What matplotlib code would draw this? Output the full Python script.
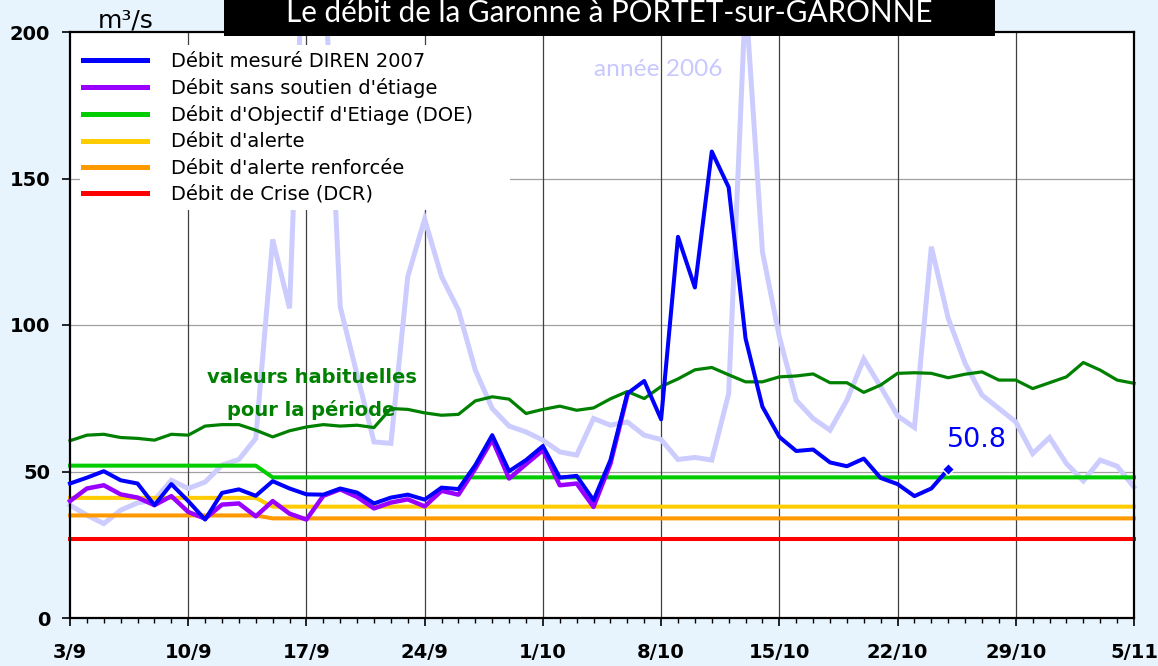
import numpy as np
import matplotlib
matplotlib.use("Agg")
import matplotlib.pyplot as plt
from matplotlib.patches import Rectangle
from matplotlib.lines import Line2D
from matplotlib.ticker import FixedLocator, MultipleLocator

# ---------------- data ----------------
days = np.arange(64)                      # 3/9 .. 5/11 (2007)
tick_days = np.arange(0, 64, 7)
tick_labels = ['3/9', '10/9', '17/9', '24/9', '1/10', '8/10', '15/10',
               '22/10', '29/10', '5/11']

debit_2007 = [45.9, 47.9, 50.1, 47.0, 45.9, 38.5, 45.7, 39.9, 33.6, 42.7,
              43.9, 41.7, 46.7, 44.2, 42.2, 42.1, 44.2, 42.8, 39.1, 41.1,
              42.1, 40.4, 44.5, 44.0, 52.2, 62.4, 50.1, 53.9, 58.7, 47.9,
              48.5, 40.2, 53.9, 76.6, 80.9, 67.8, 130.1, 112.8, 159.2, 147.0,
              95.4, 72.1, 61.8, 57.0, 57.5, 53.1, 51.8, 54.4, 47.8, 45.7,
              41.6, 44.2, 50.8]

debit_sans_soutien = [39.9, 44.2, 45.3, 42.2, 41.1, 38.5, 41.6, 36.2, 33.9, 38.7,
                      39.1, 34.7, 39.9, 35.6, 33.6, 41.7, 43.9, 41.3, 37.4, 39.4,
                      40.5, 38.1, 43.4, 42.1, 51.0, 60.9, 47.6, 52.5, 57.3, 45.3,
                      45.9, 37.9, 52.7, 76.0]

valeurs_habituelles = [60.5, 62.4, 62.7, 61.6, 61.3, 60.7, 62.7, 62.4, 65.5, 66.0,
                       66.0, 64.1, 61.8, 63.9, 65.2, 66.0, 65.5, 65.8, 65.0, 71.5,
                       71.2, 70.0, 69.2, 69.5, 74.1, 75.5, 74.7, 69.8, 71.2, 72.3,
                       70.9, 71.7, 74.8, 77.3, 74.9, 79.0, 81.6, 84.7, 85.5, 83.0,
                       80.6, 80.6, 82.3, 82.6, 83.3, 80.3, 80.3, 77.0, 79.5, 83.5,
                       83.7, 83.5, 82.0, 83.2, 84.0, 81.2, 81.2, 78.3, 80.3, 82.3,
                       87.2, 84.6, 81.2, 80.1]

annee_2006 = [38.5, 35.1, 32.2, 36.8, 39.3, 40.2, 47.0, 44.2, 46.4, 52.2,
              54.1, 61.3, 129.2, 105.7, 260.0, 230.0, 106.2, 83.0, 60.1, 59.6,
              116.5, 136.1, 116.5, 105.1, 84.6, 71.5, 65.5, 63.5, 60.7, 56.7,
              55.6, 68.1, 65.8, 66.9, 62.4, 60.9, 54.1, 54.8, 53.9, 76.6,
              212.0, 125.0, 96.0, 74.3, 68.1, 64.1, 74.3, 88.4, 78.9, 69.0,
              65.0, 126.7, 102.3, 86.9, 76.1, 71.5, 66.9, 56.1, 61.6, 52.7,
              46.8, 53.9, 51.8, 44.7]

doe = [52] * 12 + [48] * 52
alerte = [41] * 12 + [38] * 52
alerte_renforcee = [35] * 12 + [34] * 52
crise = [27] * 64

last_value_label = '50.8'

# ---------------- figure ----------------
W, H = 1158, 666
fig = plt.figure(figsize=(W / 100, H / 100), dpi=100, facecolor='#E8F4FD')


def fx(px):
    return px / W


def fy(py):
    return 1 - py / H


ax = fig.add_axes([fx(70), fy(618), fx(1134) - fx(70), fy(32) - fy(618)])
ax.set_facecolor('white')
ax.set_xlim(0, 63)
ax.set_ylim(0, 200)

# grid
for v in [50, 100, 150]:
    ax.axhline(v, color='#A0A0A0', lw=0.9, zorder=0.5)
for d in tick_days[1:-1]:
    ax.axvline(d, color='#404040', lw=0.9, zorder=0.5)

c_blue = '#0000FF'
c_purple = '#9900FF'
c_dgreen = '#008000'
c_green = '#00CC00'
c_yellow = '#FFCC00'
c_orange = '#FF9900'
c_red = '#FF0000'
c_lav = '#CCCCFF'

ax.plot(days, annee_2006, color=c_lav, lw=3.6, zorder=1, clip_on=False,
        solid_joinstyle='miter')
ax.plot(days, crise, color=c_red, lw=2.9, zorder=2, clip_on=False)
ax.plot(days, alerte_renforcee, color=c_orange, lw=2.9, zorder=2, clip_on=False)
ax.plot(days, alerte, color=c_yellow, lw=2.9, zorder=2, clip_on=False)
ax.plot(days, doe, color=c_green, lw=2.9, zorder=2.1, clip_on=False)
ax.plot(days, valeurs_habituelles, color=c_dgreen, lw=2.3, zorder=2.5, clip_on=False)
ax.plot(days[:len(debit_sans_soutien)], debit_sans_soutien, color=c_purple,
        lw=3.2, zorder=3, clip_on=False)
ax.plot(days[:len(debit_2007)], debit_2007, color=c_blue, lw=2.9, zorder=4,
        clip_on=False)
ax.plot([days[len(debit_2007) - 1]], [debit_2007[-1]], marker='D', ms=6,
        color=c_blue, mec='white', mew=1.0, zorder=5, clip_on=False)

ax.text(days[len(debit_2007) - 1] - 0.05, 58.4, last_value_label, color=c_blue,
        fontsize=19.5, ha='left', va='baseline')
ax.text(31.05, 185, 'année 2006', color='#C8C8FF', fontsize=17.6,
        family='Lato', ha='left', va='baseline')
ax.text(14.3, 82.2, 'valeurs habituelles', color=c_dgreen, fontsize=14,
        fontweight='bold', ha='center', va='center')
ax.text(14.3, 70.9, 'pour la période', color=c_dgreen, fontsize=14,
        fontweight='bold', ha='center', va='center')

# axes / ticks
for s in ax.spines.values():
    s.set_linewidth(1.6)
    s.set_color('black')
ax.set_yticks([0, 50, 100, 150, 200])
ax.xaxis.set_major_locator(FixedLocator(tick_days))
ax.set_xticklabels(tick_labels)
ax.xaxis.set_minor_locator(MultipleLocator(1))
ax.tick_params(axis='y', direction='out', length=5.8, width=1.2, pad=8.6,
               labelsize=14)
ax.tick_params(axis='x', which='major', direction='out', length=5.8,
               width=1.2, pad=12.5, labelsize=14)
ax.tick_params(axis='x', which='minor', direction='out', length=3.6, width=1.0)
for lab in ax.get_xticklabels() + ax.get_yticklabels():
    lab.set_fontweight('bold')

# unit
fig.text(fx(98), fy(28), 'm³/s', fontsize=18, ha='left', va='baseline')

# legend
fig.patches.append(Rectangle((fx(80), fy(210)), fx(510) - fx(80), fy(45) - fy(210),
                             transform=fig.transFigure, facecolor='white',
                             edgecolor='none', zorder=11))
handles = [Line2D([], [], color=c, lw=3.6) for c in
           [c_blue, c_purple, c_green, c_yellow, c_orange, c_red]]
labels = ['Débit mesuré DIREN 2007', "Débit sans soutien d'étiage",
          "Débit d'Objectif d'Etiage (DOE)", "Débit d'alerte",
          "Débit d'alerte renforcée", 'Débit de Crise (DCR)']
leg = fig.legend(handles, labels, loc='upper left',
                 bbox_to_anchor=(fx(76), fy(45)), frameon=False,
                 borderaxespad=0, borderpad=0.35, handlelength=3.3,
                 handletextpad=1.25, labelspacing=0.37, fontsize=14)
leg.set_zorder(12)

# title box
fig.patches.append(Rectangle((fx(224), fy(36)), fx(995) - fx(224), fy(0) - fy(36),
                             transform=fig.transFigure, facecolor='black',
                             edgecolor='none', zorder=13))
title = fig.text(fx(609), fy(22), 'Le débit de la Garonne à PORTET-sur-GARONNE',
                 color='white', fontsize=20, family='Lato', ha='center',
                 va='baseline', zorder=14)
fig.canvas.draw()
wpx = title.get_window_extent().width
title.set_fontsize(20 * 645 / wpx)

fig.savefig('out.png', dpi=100, facecolor=fig.get_facecolor())
